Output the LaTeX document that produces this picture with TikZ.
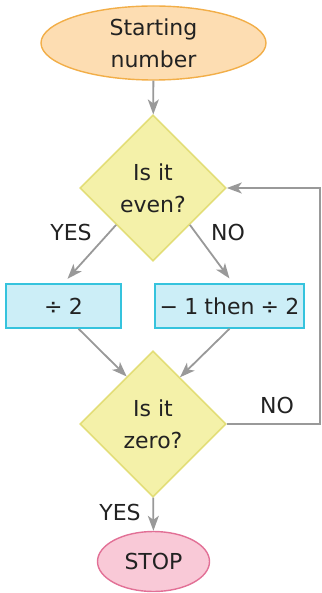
\documentclass[tikz,border=0pt]{standalone}
\usepackage{fontspec}
\setmainfont{DejaVu Sans}
\usetikzlibrary{arrows.meta, shapes.geometric}
\definecolor{startfill}{HTML}{FDDDB2}
\definecolor{startline}{HTML}{F2AE48}
\definecolor{askfill}{HTML}{F4F1A9}
\definecolor{askline}{HTML}{E3DE78}
\definecolor{opfill}{HTML}{CCEEF7}
\definecolor{opline}{HTML}{35C3DD}
\definecolor{stopfill}{HTML}{F9C9D7}
\definecolor{stopline}{HTML}{E27096}
\definecolor{flow}{HTML}{999999}
\definecolor{ink}{HTML}{222222}
\newcommand{\gap}{\hspace{0.28em}}

\begin{document}
\begin{tikzpicture}[x=1pt, y=-1pt, font=\fontsize{22}{32}\selectfont, text=ink,
  terminal/.style={ellipse, draw=startline, fill=startfill, line width=1.4pt, inner sep=0pt, align=center},
  ask/.style={diamond, draw=askline, fill=askfill, line width=1.6pt, minimum width=146pt, minimum height=146pt, inner sep=0pt, align=center},
  opbox/.style={rectangle, draw=opline, fill=opfill, line width=1.5pt, minimum height=44pt, inner sep=0pt},
  arr/.style={draw=flow, line width=1.8pt, -{Stealth[length=15pt, width=11pt, inset=4pt]}},
  lab/.style={inner sep=0pt}]
\useasboundingbox (0,0) rectangle (321,593);
% shapes
\node[terminal, minimum width=225pt, minimum height=74pt] (start) at (153.5,43) {Starting\\number};
\node[ask] (even) at (153,188) {Is it\\even?};
\node[opbox, minimum width=115pt] (half) at (63.5,306) {÷\gap 2};
\node[opbox, minimum width=149pt] (odd) at (229.5,306) {−\gap 1\gap then\gap ÷\gap 2};
\node[ask] (zero) at (153,424) {Is it\\zero?};
\node[terminal, draw=stopline, fill=stopfill, minimum width=112pt, minimum height=60pt] (stop) at (153.5,561.5) {STOP};
\coordinate (edge) at (320,300);
% connectors
\draw[arr] (start) -- (even);
\draw[arr, shorten >=6pt] (even.south west) -- (half.north);
\draw[arr, shorten >=6pt] (even.south east) -- ([xshift=3.5pt]odd.north);
\draw[arr] ([xshift=15pt]half.south) -- (zero.119);
\draw[arr] (odd.south) -- (zero.60);
\draw[arr] (zero) -- (stop);
\draw[arr] (zero.east) -- (zero.east -| edge) -- (even.east -| edge) -- (even.east);
% labels
\node[lab] (yes1) at (71,232) {YES};
\node[lab] (no1) at (228,232) {NO};
\node[lab] (no2) at (277,405) {NO};
\node[lab] (yes2) at (120,512) {YES};
\end{tikzpicture}
\end{document}
